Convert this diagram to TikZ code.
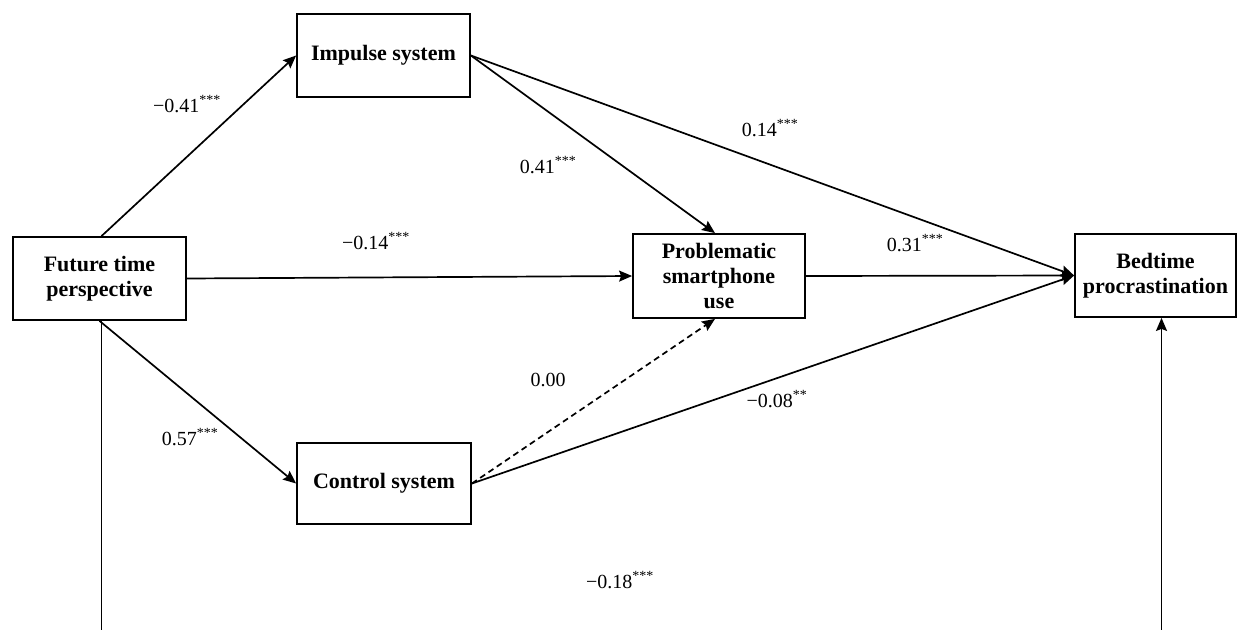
\documentclass[tikz,border=0pt]{standalone}
\usepackage{fontspec}
\setmainfont{Liberation Serif}
\usetikzlibrary{arrows.meta}
\begin{document}
\begin{tikzpicture}[x=1pt,y=-1pt,
  box/.style={draw,line width=1.8pt,rectangle,align=center,font=\fontsize{22}{25}\selectfont\bfseries,inner sep=0pt},
  conn/.style={line width=1.7pt,-{Stealth[length=13pt,width=11pt,inset=2pt]}},
  lab/.style={font=\fontsize{20}{22}\selectfont,inner sep=0pt}]
\useasboundingbox (0,0) rectangle (1238,629);
\clip (0,0) rectangle (1238,629);
\node[box,minimum width=173pt,minimum height=83pt] (imp) at (383.5,55.5) {Impulse system};
\node[box,minimum width=173pt,minimum height=83pt] (ftp) at (99.5,278.5) {Future time\\perspective};
\node[box,minimum width=172pt,minimum height=84pt] (psu) at (719,276) {Problematic\\smartphone\\use};
\node[box,minimum width=161pt,minimum height=83pt] (bed) at (1155.5,275.5) {Bedtime\\procrastination};
\node[box,minimum width=174pt,minimum height=81pt] (ctl) at (384,483.5) {Control system};
\draw[conn] ([xshift=2pt]ftp.north) -- (imp.west);
\draw[conn] (imp.east) -- ([xshift=-4pt]psu.north);
\draw[conn] (imp.east) -- (bed.west);
\draw[conn] (ftp.east) -- (psu.west);
\draw[conn] (psu.east) -- (bed.west);
\draw[conn] (ftp.south) -- (ctl.west);
\draw[conn,dashed,dash pattern=on 6pt off 4pt] (ctl.east) -- ([xshift=-4pt]psu.south);
\draw[conn] (ctl.east) -- (bed.west);
\coordinate (low) at (0,700);
\draw[conn] ([xshift=2pt]ftp.south) -- ([xshift=2pt]ftp.south |- low) -| ([xshift=6pt]bed.south);
\node[lab] (l1) at (187,104) {−0.41\textsuperscript{***}};
\node[lab] (l2) at (770,128) {0.14\textsuperscript{***}};
\node[lab] (l3) at (548,165) {0.41\textsuperscript{***}};
\node[lab] (l4) at (376,241) {−0.14\textsuperscript{***}};
\node[lab] (l5) at (915,243) {0.31\textsuperscript{***}};
\node[lab] (l6) at (548,380) {0.00};
\node[lab] (l7) at (777,399) {−0.08\textsuperscript{**}};
\node[lab] (l8) at (190,437) {0.57\textsuperscript{***}};
\node[lab] (l9) at (620,580) {−0.18\textsuperscript{***}};
\end{tikzpicture}
\end{document}
